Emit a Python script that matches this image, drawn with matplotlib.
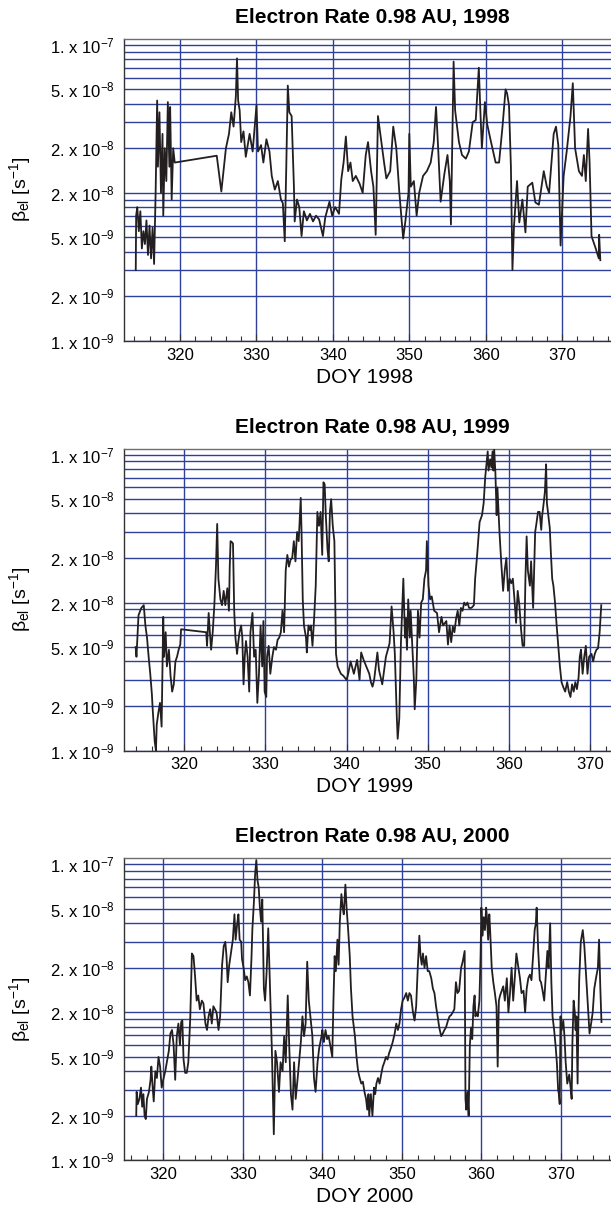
import matplotlib
matplotlib.use('Agg')
import matplotlib.pyplot as plt
from matplotlib.ticker import FixedLocator, FixedFormatter, MultipleLocator, NullFormatter

plt.rcParams['font.family'] = ['Liberation Sans', 'DejaVu Sans']
plt.rcParams['mathtext.fontset'] = 'custom'
plt.rcParams['mathtext.rm'] = 'Liberation Sans'
plt.rcParams['mathtext.it'] = 'Liberation Sans:italic'
plt.rcParams['mathtext.bf'] = 'Liberation Sans:bold'
plt.rcParams['mathtext.default'] = 'regular'

# Electron ionisation rate: (DOY, rate in 1/s)
rate_1998 = [
    (314.2, 3.0e-9), (314.25, 7.0e-9), (314.4, 8.0e-9), (314.6, 5.5e-9), (314.8, 7.5e-9),
    (315.0, 4.2e-9), (315.2, 5.5e-9), (315.4, 4.5e-9), (315.6, 6.5e-9), (315.8, 3.8e-9),
    (316.0, 6.0e-9), (316.2, 3.6e-9), (316.4, 5.8e-9), (316.6, 3.3e-9), (316.8, 1.0e-8),
    (317.0, 4.2e-8), (317.1, 1.5e-8), (317.3, 3.5e-8), (317.5, 1.0e-8), (317.7, 2.5e-8),
    (317.8, 7.0e-9), (318.0, 2.0e-8), (318.2, 1.2e-8), (318.4, 4.1e-8), (318.6, 1.5e-8),
    (318.7, 3.8e-8), (318.9, 9.0e-9), (319.1, 2.0e-8), (319.3, 1.6e-8), (324.8, 1.78e-8),
    (325.4, 1.02e-8), (326.0, 2.0e-8), (326.4, 2.5e-8), (326.7, 3.5e-8), (327.0, 2.8e-8),
    (327.3, 4.5e-8), (327.45, 8.1e-8), (327.6, 4.2e-8), (327.8, 3.6e-8), (328.0, 2.2e-8),
    (328.3, 2.6e-8), (328.6, 1.75e-8), (329.1, 2.5e-8), (329.5, 1.9e-8), (330.0, 3.9e-8),
    (330.2, 1.9e-8), (330.6, 2.1e-8), (330.9, 1.6e-8), (331.3, 2.3e-8), (331.7, 1.9e-8),
    (332.0, 1.3e-8), (332.4, 1.05e-8), (332.8, 1.2e-8), (333.2, 9.0e-9), (333.45, 8.5e-9),
    (333.7, 4.7e-9), (333.9, 1.5e-8), (334.1, 5.3e-8), (334.3, 3.5e-8), (334.6, 3.3e-8),
    (334.9, 1.1e-8), (335.0, 6.4e-9), (335.3, 9.0e-9), (335.6, 8.0e-9), (335.9, 5.1e-9),
    (336.2, 7.5e-9), (336.6, 6.5e-9), (337.0, 7.2e-9), (337.4, 6.4e-9), (337.8, 7.0e-9),
    (338.2, 6.6e-9), (338.7, 5.1e-9), (339.0, 6.8e-9), (339.55, 8.7e-9), (339.9, 7.0e-9),
    (340.3, 8.0e-9), (340.8, 7.2e-9), (341.1, 1.23e-8), (341.4, 1.6e-8), (341.7, 2.4e-8),
    (342.0, 1.4e-8), (342.3, 1.6e-8), (342.6, 1.2e-8), (343.0, 1.3e-8), (343.5, 1.15e-8),
    (343.9, 1.0e-8), (344.3, 1.8e-8), (344.6, 2.2e-8), (345.0, 1.4e-8), (345.3, 1.1e-8),
    (345.6, 5.2e-9), (345.9, 3.3e-8), (346.3, 2.3e-8), (346.7, 1.6e-8), (347.0, 1.25e-8),
    (347.5, 1.4e-8), (347.9, 2.8e-8), (348.3, 2.0e-8), (348.7, 1.0e-8), (349.2, 4.9e-9),
    (349.5, 6.5e-9), (349.9, 1.0e-8), (350.0, 2.5e-8), (350.2, 1.1e-8), (350.6, 1.2e-8),
    (350.96, 7.0e-9), (351.3, 1.0e-8), (351.8, 1.3e-8), (352.3, 1.4e-8), (352.8, 1.6e-8),
    (353.2, 2.2e-8), (353.5, 3.8e-8), (353.8, 1.9e-8), (354.1, 8.7e-9), (354.6, 1.35e-8),
    (355.0, 1.8e-8), (355.3, 1.2e-8), (355.45, 6.1e-9), (355.8, 7.7e-8), (356.0, 3.6e-8),
    (356.5, 2.2e-8), (356.9, 1.8e-8), (357.4, 1.7e-8), (357.8, 1.9e-8), (358.3, 3.0e-8),
    (358.7, 3.1e-8), (359.1, 7.0e-8), (359.3, 3.6e-8), (359.5, 2.0e-8), (359.9, 4.1e-8),
    (360.2, 2.9e-8), (360.7, 2.2e-8), (361.3, 1.6e-8), (361.75, 1.6e-8), (362.2, 2.8e-8),
    (362.6, 5.0e-8), (362.8, 4.7e-8), (363.05, 3.9e-8), (363.3, 1.5e-8), (363.5, 3.0e-9),
    (363.7, 5.9e-9), (364.1, 1.2e-8), (364.4, 6.3e-9), (364.8, 9.0e-9), (365.2, 5.4e-9),
    (365.5, 1.1e-8), (366.1, 1.17e-8), (366.5, 8.6e-9), (366.96, 8.3e-9), (367.6, 1.4e-8),
    (368.0, 1.1e-8), (368.3, 1.0e-8), (368.9, 2.5e-8), (369.2, 2.8e-8), (369.5, 2.1e-8),
    (369.8, 4.4e-9), (370.2, 1.3e-8), (370.6, 1.9e-8), (371.1, 3.3e-8), (371.4, 5.5e-8),
    (371.7, 2.0e-8), (372.2, 1.4e-8), (372.6, 1.3e-8), (372.85, 1.8e-8), (373.1, 1.2e-8),
    (373.4, 2.7e-8), (373.6, 1.6e-8), (373.85, 5.1e-9), (374.4, 4.2e-9), (374.8, 3.6e-9),
    (374.85, 5.2e-9), (375.0, 3.5e-9),
]

rate_1999 = [
    (314.0, 5.0e-9), (314.1, 4.3e-9), (314.35, 8.2e-9), (314.7, 9.2e-9), (315.0, 9.6e-9),
    (315.2, 7.0e-9), (315.4, 5.8e-9), (315.6, 4.3e-9), (315.8, 3.3e-9), (316.0, 2.4e-9),
    (316.1, 1.9e-9), (316.35, 1.15e-9), (316.5, 1.0e-9), (316.6, 1.5e-9), (316.8, 1.8e-9),
    (317.0, 2.1e-9), (317.2, 1.45e-9), (317.4, 8.0e-9), (317.5, 4.3e-9), (317.7, 6.3e-9),
    (317.85, 3.7e-9), (318.1, 4.8e-9), (318.3, 3.2e-9), (318.5, 2.5e-9), (318.7, 2.8e-9),
    (318.9, 4.0e-9), (319.1, 4.3e-9), (319.3, 4.8e-9), (319.5, 5.2e-9), (319.6, 6.6e-9),
    (322.7, 6.3e-9), (322.8, 5.1e-9), (323.0, 8.5e-9), (323.15, 6.3e-9), (323.3, 4.8e-9),
    (323.5, 6.3e-9), (323.7, 9.6e-9), (323.9, 1.75e-8), (324.05, 3.4e-8), (324.2, 1.45e-8),
    (324.45, 1.05e-8), (324.65, 9.6e-9), (324.85, 1.2e-8), (325.05, 9.6e-9), (325.3, 1.25e-8),
    (325.5, 8.8e-9), (325.6, 1.75e-8), (325.7, 2.6e-8), (325.9, 2.55e-8), (326.0, 2.5e-8),
    (326.15, 8.8e-9), (326.3, 5.8e-9), (326.5, 4.5e-9), (326.6, 5.1e-9), (326.8, 6.3e-9),
    (327.0, 7.0e-9), (327.15, 5.8e-9), (327.3, 2.8e-9), (327.45, 4.3e-9), (327.6, 5.5e-9),
    (327.8, 4.3e-9), (328.0, 2.5e-9), (328.15, 6.3e-9), (328.4, 8.5e-9), (328.6, 4.3e-9),
    (328.8, 4.8e-9), (329.0, 2.1e-9), (329.2, 3.3e-9), (329.4, 7.0e-9), (329.6, 3.7e-9),
    (329.75, 7.5e-9), (329.9, 2.5e-9), (330.1, 2.3e-9), (330.2, 4.3e-9), (330.4, 5.1e-9),
    (330.6, 3.3e-9), (330.85, 4.3e-9), (331.05, 5.0e-9), (331.3, 4.8e-9), (331.5, 5.6e-9),
    (331.7, 5.8e-9), (331.9, 6.3e-9), (332.1, 8.8e-9), (332.3, 6.3e-9), (332.5, 1.65e-8),
    (332.7, 2.1e-8), (332.9, 1.75e-8), (333.1, 1.95e-8), (333.3, 2.0e-8), (333.5, 2.6e-8),
    (333.7, 1.9e-8), (333.9, 3.0e-8), (334.1, 2.6e-8), (334.35, 5.1e-8), (334.45, 3.0e-8),
    (334.6, 1.05e-8), (334.75, 7.0e-9), (335.0, 5.8e-9), (335.1, 4.6e-9), (335.3, 7.0e-9),
    (335.5, 6.5e-9), (335.6, 7.0e-9), (335.8, 5.1e-9), (336.0, 7.8e-9), (336.2, 1.3e-8),
    (336.4, 4.1e-8), (336.6, 3.3e-8), (336.8, 4.1e-8), (337.0, 2.1e-8), (337.15, 6.5e-8),
    (337.3, 6.3e-8), (337.45, 3.8e-8), (337.65, 2.3e-8), (337.8, 1.9e-8), (337.95, 4.1e-8),
    (338.1, 5.0e-8), (338.3, 3.3e-8), (338.5, 2.6e-8), (338.7, 4.5e-9), (338.9, 3.7e-9),
    (339.3, 3.3e-9), (339.6, 3.2e-9), (340.0, 3.0e-9), (340.2, 3.3e-9), (340.5, 4.0e-9),
    (340.9, 3.3e-9), (341.3, 4.1e-9), (341.6, 3.0e-9), (341.8, 4.6e-9), (342.1, 4.1e-9),
    (342.8, 3.3e-9), (343.0, 2.9e-9), (343.2, 2.7e-9), (343.4, 3.0e-9), (343.8, 4.6e-9),
    (344.0, 3.5e-9), (344.4, 2.8e-9), (344.85, 4.3e-9), (345.3, 5.3e-9), (345.55, 9.4e-9),
    (345.8, 6.3e-9), (345.95, 4.5e-9), (346.2, 1.65e-9), (346.3, 1.2e-9), (346.5, 1.65e-9),
    (346.7, 5.3e-9), (346.9, 1.05e-8), (347.0, 1.45e-8), (347.2, 5.8e-9), (347.3, 7.8e-9),
    (347.45, 4.8e-9), (347.6, 1.05e-8), (347.8, 5.8e-9), (347.9, 8.8e-9), (348.15, 4.5e-9),
    (348.3, 3.0e-9), (348.4, 1.9e-9), (348.6, 3.0e-9), (348.8, 8.8e-9), (349.0, 5.8e-9),
    (349.2, 1.0e-8), (349.4, 1.05e-8), (349.6, 1.45e-8), (349.8, 1.65e-8), (349.9, 2.6e-8),
    (350.1, 1.3e-8), (350.3, 1.05e-8), (350.5, 1.1e-8), (350.8, 8.8e-9), (351.15, 8.5e-9),
    (351.4, 6.3e-9), (351.7, 8.0e-9), (351.9, 7.0e-9), (352.3, 7.5e-9), (352.5, 5.2e-9),
    (352.7, 7.0e-9), (352.9, 5.4e-9), (353.1, 6.9e-9), (353.3, 6.3e-9), (353.5, 7.8e-9),
    (353.7, 8.8e-9), (353.9, 7.0e-9), (354.1, 9.2e-9), (354.3, 8.8e-9), (354.5, 1.0e-8),
    (354.7, 9.6e-9), (354.9, 1.0e-8), (355.1, 9.2e-9), (355.4, 9.2e-9), (355.7, 9.6e-9),
    (355.85, 1.45e-8), (356.1, 2.1e-8), (356.4, 3.5e-8), (356.7, 3.9e-8), (356.9, 4.7e-8),
    (357.1, 7.1e-8), (357.25, 8.6e-8), (357.4, 1.05e-7), (357.5, 7.8e-8), (357.7, 9.3e-8),
    (357.85, 8.2e-8), (358.0, 1.05e-7), (358.1, 7.8e-8), (358.2, 1.08e-7), (358.35, 7.5e-8),
    (358.5, 3.9e-8), (358.6, 6.0e-8), (358.85, 3.0e-8), (359.1, 1.75e-8), (359.3, 1.2e-8),
    (359.5, 1.65e-8), (359.7, 2.0e-8), (359.9, 1.2e-8), (360.1, 1.45e-8), (360.3, 1.35e-8),
    (360.5, 1.45e-8), (360.7, 1.05e-8), (360.9, 7.3e-9), (361.1, 1.2e-8), (361.3, 9.6e-9),
    (361.5, 6.7e-9), (361.7, 5.1e-9), (361.9, 5.1e-9), (362.05, 1.45e-8), (362.2, 2.8e-8),
    (362.35, 1.65e-8), (362.6, 1.3e-8), (362.75, 1.9e-8), (363.0, 9.2e-9), (363.1, 1.45e-8),
    (363.25, 3.0e-8), (363.4, 3.4e-8), (363.6, 4.1e-8), (363.8, 4.1e-8), (364.0, 3.1e-8),
    (364.1, 3.8e-8), (364.3, 4.7e-8), (364.45, 5.6e-8), (364.6, 8.6e-8), (364.7, 4.7e-8),
    (364.9, 3.8e-8), (365.05, 3.2e-8), (365.2, 2.1e-8), (365.35, 1.45e-8), (365.5, 1.3e-8),
    (365.7, 1.0e-8), (365.9, 7.0e-9), (366.1, 5.1e-9), (366.3, 3.7e-9), (366.5, 2.9e-9),
    (366.7, 2.7e-9), (366.95, 2.5e-9), (367.2, 2.9e-9), (367.4, 2.5e-9), (367.6, 2.3e-9),
    (367.8, 2.8e-9), (368.0, 2.5e-9), (368.2, 2.9e-9), (368.4, 2.6e-9), (368.6, 3.1e-9),
    (368.75, 4.3e-9), (368.9, 4.8e-9), (369.1, 3.3e-9), (369.3, 4.3e-9), (369.5, 5.1e-9),
    (369.7, 3.3e-9), (369.9, 4.3e-9), (370.2, 4.5e-9), (370.4, 4.0e-9), (370.6, 4.5e-9),
    (370.8, 4.8e-9), (371.0, 4.9e-9), (371.2, 6.3e-9), (371.4, 9.6e-9),
]

rate_2000 = [
    (316.6, 2.0e-9), (316.65, 2.9e-9), (316.8, 2.4e-9), (317.0, 2.6e-9), (317.2, 3.1e-9),
    (317.35, 2.3e-9), (317.5, 2.8e-9), (317.65, 2.0e-9), (317.8, 1.9e-9), (317.95, 2.6e-9),
    (318.2, 2.9e-9), (318.4, 3.5e-9), (318.5, 4.3e-9), (318.65, 3.2e-9), (318.8, 2.5e-9),
    (319.0, 4.0e-9), (319.2, 3.6e-9), (319.4, 5.0e-9), (319.6, 4.3e-9), (319.8, 3.1e-9),
    (320.05, 3.6e-9), (320.25, 4.0e-9), (320.45, 4.6e-9), (320.7, 5.5e-9), (320.9, 7.2e-9),
    (321.1, 7.6e-9), (321.3, 6.0e-9), (321.5, 3.5e-9), (321.7, 6.9e-9), (321.9, 8.4e-9),
    (322.1, 6.0e-9), (322.25, 8.6e-9), (322.4, 8.8e-9), (322.55, 4.8e-9), (322.75, 3.9e-9),
    (322.95, 3.9e-9), (323.15, 4.6e-9), (323.4, 9.4e-9), (323.6, 2.5e-8), (323.8, 2.4e-8),
    (324.0, 1.75e-8), (324.2, 1.2e-8), (324.4, 1.3e-8), (324.6, 1.05e-8), (324.85, 1.2e-8),
    (325.05, 1.15e-8), (325.3, 8.4e-9), (325.5, 7.6e-9), (325.7, 9.4e-9), (325.9, 1.05e-8),
    (326.1, 8.4e-9), (326.3, 1.1e-8), (326.5, 1.05e-8), (326.7, 1.0e-8), (326.95, 7.6e-9),
    (327.15, 9.4e-9), (327.4, 2.1e-8), (327.6, 2.8e-8), (327.8, 3.0e-8), (327.95, 2.4e-8),
    (328.1, 1.6e-8), (328.3, 2.1e-8), (328.5, 2.5e-8), (328.75, 3.1e-8), (328.95, 4.6e-8),
    (329.1, 3.1e-8), (329.3, 4.0e-8), (329.45, 4.6e-8), (329.6, 3.1e-8), (329.8, 3.0e-8),
    (329.9, 2.3e-8), (330.1, 2.0e-8), (330.3, 1.65e-8), (330.5, 1.75e-8), (330.7, 1.6e-8),
    (330.9, 1.3e-8), (331.1, 2.4e-8), (331.2, 3.6e-8), (331.4, 5.6e-8), (331.55, 8.6e-8),
    (331.7, 1.07e-7), (331.85, 7.8e-8), (332.0, 7.0e-8), (332.15, 5.1e-8), (332.3, 4.1e-8),
    (332.45, 5.8e-8), (332.65, 1.45e-8), (332.8, 1.2e-8), (333.0, 1.9e-8), (333.2, 3.7e-8),
    (333.4, 1.6e-8), (333.65, 5.7e-9), (333.9, 1.5e-9), (334.1, 5.5e-9), (334.3, 4.6e-9),
    (334.55, 2.9e-9), (334.75, 4.6e-9), (335.0, 4.0e-9), (335.2, 6.9e-9), (335.4, 4.6e-9),
    (335.65, 1.3e-8), (335.85, 5.7e-9), (336.05, 2.8e-9), (336.25, 2.2e-9), (336.45, 4.6e-9),
    (336.65, 2.6e-9), (336.9, 3.6e-9), (337.1, 4.8e-9), (337.3, 6.3e-9), (337.5, 9.4e-9),
    (337.7, 6.9e-9), (337.9, 8.4e-9), (338.1, 2.2e-8), (338.3, 1.2e-8), (338.5, 9.4e-9),
    (338.75, 6.9e-9), (338.95, 3.6e-9), (339.15, 2.9e-9), (339.4, 4.6e-9), (339.6, 5.7e-9),
    (339.9, 6.9e-9), (340.0, 7.6e-9), (340.2, 6.3e-9), (340.4, 7.6e-9), (340.6, 6.6e-9),
    (340.8, 6.9e-9), (341.0, 6.0e-9), (341.25, 5.0e-9), (341.4, 1.2e-8), (341.55, 2.4e-8),
    (341.7, 1.9e-8), (341.9, 3.1e-8), (342.05, 2.1e-8), (342.2, 4.1e-8), (342.4, 6.3e-8),
    (342.55, 5.1e-8), (342.7, 4.6e-8), (342.9, 7.3e-8), (343.05, 5.1e-8), (343.25, 3.6e-8),
    (343.45, 2.4e-8), (343.6, 1.45e-8), (343.8, 9.4e-9), (344.1, 6.9e-9), (344.3, 5.0e-9),
    (344.5, 4.0e-9), (344.7, 3.6e-9), (344.9, 3.3e-9), (345.1, 3.4e-9), (345.3, 2.9e-9),
    (345.5, 2.6e-9), (345.65, 2.2e-9), (345.8, 2.8e-9), (345.9, 2.0e-9), (346.1, 2.8e-9),
    (346.3, 2.0e-9), (346.5, 3.1e-9), (346.65, 2.8e-9), (346.8, 3.3e-9), (347.0, 3.6e-9),
    (347.2, 3.3e-9), (347.4, 3.8e-9), (347.6, 4.3e-9), (347.8, 4.6e-9), (348.0, 5.0e-9),
    (348.2, 4.8e-9), (348.4, 5.3e-9), (348.65, 5.8e-9), (348.85, 6.3e-9), (349.1, 7.2e-9),
    (349.3, 8.4e-9), (349.5, 7.6e-9), (349.7, 8.4e-9), (349.9, 1.05e-8), (350.1, 1.2e-8),
    (350.3, 1.25e-8), (350.55, 1.35e-8), (350.75, 1.2e-8), (350.95, 1.35e-8), (351.15, 1.3e-8),
    (351.4, 1.0e-8), (351.6, 8.8e-9), (351.8, 1.1e-8), (352.0, 2.0e-8), (352.2, 3.3e-8),
    (352.35, 2.4e-8), (352.5, 2.1e-8), (352.65, 2.5e-8), (352.85, 2.0e-8), (353.05, 2.4e-8),
    (353.25, 1.9e-8), (353.45, 1.9e-8), (353.7, 1.7e-8), (353.9, 1.45e-8), (354.1, 1.35e-8),
    (354.3, 1.1e-8), (354.5, 9.4e-9), (354.7, 7.9e-9), (354.95, 6.9e-9), (355.15, 7.2e-9),
    (355.35, 7.6e-9), (355.55, 7.9e-9), (355.8, 8.8e-9), (356.0, 9.4e-9), (356.2, 9.6e-9),
    (356.4, 1.0e-8), (356.6, 1.05e-8), (356.8, 1.6e-8), (357.0, 1.35e-8), (357.2, 1.4e-8),
    (357.45, 2.0e-8), (357.65, 2.2e-8), (357.9, 2.6e-8), (358.0, 2.6e-9), (358.1, 2.2e-9),
    (358.25, 2.9e-9), (358.4, 2.0e-9), (358.55, 6.0e-9), (358.7, 7.9e-9), (358.85, 6.6e-9),
    (359.0, 1.1e-8), (359.15, 1.3e-8), (359.25, 9.4e-9), (359.4, 1.0e-8), (359.55, 9.4e-9),
    (359.75, 1.2e-8), (359.9, 2.4e-8), (360.0, 5.1e-8), (360.15, 3.3e-8), (360.3, 4.4e-8),
    (360.45, 3.6e-8), (360.6, 5.1e-8), (360.7, 4.4e-8), (360.85, 3.1e-8), (361.0, 4.6e-8),
    (361.1, 3.6e-8), (361.3, 2.0e-8), (361.5, 1.6e-8), (361.7, 1.35e-8), (361.9, 1.1e-8),
    (362.05, 4.3e-9), (362.2, 1.2e-8), (362.35, 1.3e-8), (362.55, 1.4e-8), (362.75, 1.5e-8),
    (362.95, 1.2e-8), (363.2, 1.7e-8), (363.4, 1.0e-8), (363.6, 1.35e-8), (363.8, 2.0e-8),
    (364.0, 1.2e-8), (364.2, 1.7e-8), (364.4, 2.5e-8), (364.6, 2.1e-8), (364.85, 1.7e-8),
    (365.05, 1.35e-8), (365.3, 1.4e-8), (365.5, 1.0e-8), (365.7, 1.45e-8), (365.9, 1.7e-8),
    (366.1, 1.8e-8), (366.3, 1.65e-8), (366.5, 2.4e-8), (366.7, 3.6e-8), (366.85, 4.0e-8),
    (366.95, 5.1e-8), (367.15, 2.6e-8), (367.35, 1.65e-8), (367.5, 1.6e-8), (367.7, 1.4e-8),
    (367.9, 1.2e-8), (368.1, 1.75e-8), (368.3, 2.6e-8), (368.45, 2.0e-8), (368.65, 4.0e-8),
    (368.8, 1.6e-8), (368.95, 9.4e-9), (369.15, 7.6e-9), (369.35, 5.8e-9), (369.5, 4.5e-9),
    (369.65, 3.0e-9), (369.75, 2.8e-9), (369.85, 2.4e-9), (369.95, 9.4e-9), (370.1, 7.6e-9),
    (370.3, 8.8e-9), (370.45, 6.9e-9), (370.6, 4.6e-9), (370.8, 3.3e-9), (371.05, 3.8e-9),
    (371.25, 3.0e-9), (371.35, 2.6e-9), (371.45, 6.3e-9), (371.6, 1.2e-8), (371.75, 1.0e-8),
    (371.85, 7.6e-9), (371.95, 9.4e-9), (372.1, 3.3e-9), (372.2, 8.8e-9), (372.3, 1.65e-8),
    (372.5, 3.0e-8), (372.75, 3.6e-8), (372.95, 2.8e-8), (373.2, 1.65e-8), (373.4, 1.05e-8),
    (373.6, 7.2e-9), (373.8, 8.4e-9), (374.0, 1.0e-8), (374.2, 1.45e-8), (374.45, 1.75e-8),
    (374.65, 2.0e-8), (374.8, 3.1e-8), (374.95, 1.5e-8), (375.1, 8.6e-9),
]

years = ['1998', '1999', '2000']
series = [rate_1998, rate_1999, rate_2000]
x_ranges = [(312.7, 376.4), (312.6, 372.6), (315.1, 376.3)]

x_ticks = [320, 330, 340, 350, 360, 370]
y_ticks = [1e-9, 2e-9, 5e-9, 1e-8, 2e-8, 5e-8, 1e-7]
# labels exactly as printed on the original (the 1e-8 tick really says 2.)
y_tick_labels = ['1. x 10$^{-9}$', '2. x 10$^{-9}$', '5. x 10$^{-9}$', '2. x 10$^{-8}$',
                 '2. x 10$^{-8}$', '5. x 10$^{-8}$', '1. x 10$^{-7}$']
y_grid = [2e-9, 3e-9, 4e-9, 5e-9, 6e-9, 7e-9, 8e-9, 9e-9,
          1e-8, 2e-8, 3e-8, 4e-8, 5e-8, 6e-8, 7e-8, 8e-8, 9e-8, 1e-7]

grid_color = '#2f409a'
line_color = '#231f20'

W, H = 611, 1214
fig = plt.figure(figsize=(W / 100, H / 100), dpi=100)

left_px = 124.3
bottoms_px = [340.7, 750.5, 1160.3]
height_px = 302.0

for year, pts, xr, b in zip(years, series, x_ranges, bottoms_px):
    ax = fig.add_axes([left_px / W, 1 - b / H, 1 - left_px / W, height_px / H])
    doy = [p[0] for p in pts]
    rate = [p[1] for p in pts]
    ax.plot(doy, rate, color=line_color, lw=1.3, zorder=3)

    ax.set_yscale('log')
    ax.set_ylim(1e-9, 1.1e-7)
    ax.set_xlim(*xr)

    ax.yaxis.set_major_locator(FixedLocator(y_ticks))
    ax.yaxis.set_major_formatter(FixedFormatter(y_tick_labels))
    ax.yaxis.set_minor_locator(FixedLocator(y_grid))
    ax.yaxis.set_minor_formatter(NullFormatter())
    ax.tick_params(axis='y', which='both', length=0, pad=7, labelsize=12)

    ax.set_xticks(x_ticks)
    ax.xaxis.set_minor_locator(MultipleLocator(2))
    ax.tick_params(axis='x', which='major', direction='in', length=5, width=0.8,
                   pad=5, labelsize=12, color='#333333')
    ax.tick_params(axis='x', which='minor', direction='in', length=3.5, width=0.8,
                   color='#333333')

    ax.set_axisbelow(True)
    ax.grid(True, axis='y', which='both', color=grid_color, lw=1.0)
    ax.grid(True, axis='x', which='major', color=grid_color, lw=1.0)

    ax.spines['right'].set_visible(False)
    ax.spines['top'].set_color('#6e6e6e')
    ax.spines['left'].set_color('#333333')
    ax.spines['bottom'].set_color('#333333')
    for s in ['top', 'left', 'bottom']:
        ax.spines[s].set_linewidth(1.0)

    top_px = b - height_px
    fig.text(372 / W, 1 - (top_px - 21.5) / H, 'Electron Rate 0.98 AU, ' + year,
             ha='center', va='center', fontsize=15, fontweight='bold')
    fig.text(365 / W, 1 - (b + 36.5) / H, 'DOY ' + year,
             ha='center', va='center', fontsize=15)
    fig.text(20 / W, 1 - (b - height_px / 2) / H, r'$\beta_{el}$ [s$^{-1}$]',
             ha='center', va='center', rotation=90, fontsize=14)

fig.savefig('out.png', dpi=100)
